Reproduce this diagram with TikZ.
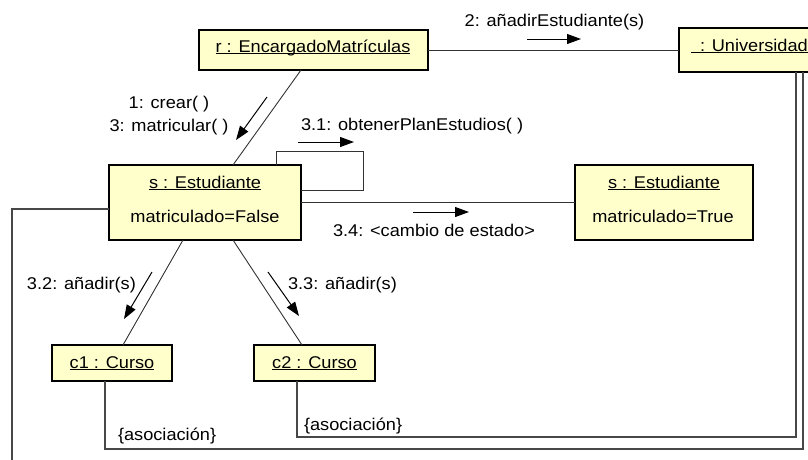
\documentclass[tikz,border=0pt]{standalone}
\usepackage{fontspec}
\setmainfont{Liberation Sans}[FakeStretch=1.07]
\usetikzlibrary{arrows.meta,calc}
\definecolor{boxfill}{RGB}{255,255,204}
\newcommand{\ulname}[1]{\underline{\smash{#1}}}
\begin{document}
\begin{tikzpicture}[x=1pt,y=-1pt,
  every node/.style={font=\fontsize{17}{23}\selectfont, inner sep=0pt, outer sep=0pt},
  objbox/.style={draw=black, line width=1.3pt, fill=boxfill, rectangle},
  conn/.style={draw=black!80, line width=0.9pt},
  assoc/.style={draw=black!72, line width=1.2pt},
  msg/.style={-{Triangle[length=14pt,width=10pt]}, line width=1pt, black},
  lbl/.style={anchor=base west}]
\useasboundingbox (0,0) rectangle (808,459);

% object boxes
\node[objbox, minimum width=229pt, minimum height=40pt] (r) at (313.5,50) {};
\node[objbox, minimum width=151pt, minimum height=44pt] (U) at (754.5,50) {};
\node[objbox, minimum width=192pt, minimum height=75pt] (s) at (205,202.5) {};
\node[objbox, minimum width=178pt, minimum height=75pt] (t) at (664,202.5) {};
\node[objbox, minimum width=120pt, minimum height=36pt] (c1) at (112,363) {};
\node[objbox, minimum width=121pt, minimum height=36pt] (c2) at (314.5,363) {};

% texts inside boxes
\node[anchor=base] (rt) at (313,52) {\ulname{r : EncargadoMatrículas}};
\node[anchor=base west] (Ut) at (691,51) {\ulname{\hspace{9pt}: Universidad}};
\node[anchor=base] (st) at (205,188) {\ulname{s : Estudiante}};
\node[anchor=base] (sa) at (205,222) {matriculado=False};
\node[anchor=base] (tt) at (664,188) {\ulname{s : Estudiante}};
\node[anchor=base] (ta) at (663,222) {matriculado=True};
\node[anchor=base] (c1t) at (112,368) {\ulname{c1 : Curso}};
\node[anchor=base] (c2t) at (314.5,368) {\ulname{c2 : Curso}};

% named coordinates for path corners
\coordinate (loopA) at (276,151);
\coordinate (loopB) at (363,190);
\coordinate (leftC) at (12,465);
\coordinate (as1) at (803,449);
\coordinate (as2) at (796,437);

% links
\draw[conn] (r) -- (U);
\draw[conn] ([xshift=-12.5pt]r.south) -- ([xshift=28pt]s.north);
\draw[conn] (s.north -| loopA) -- (loopA) -| (loopB) -- (s.east |- loopB);
\draw[conn] (s) -- (t);
\draw[conn] ([xshift=-22pt]s.south) -- ([xshift=11pt]c1.north);
\draw[conn] ([xshift=28pt]s.south) -- ([xshift=-12.5pt]c2.north);
\draw[assoc] (s.west |- 0,209) -| (leftC);
\draw[assoc] (c1.south -| 105,0) |- (as1) -- (U.south -| as1);
\draw[assoc] (c2.south -| 297,0) |- (as2) -- (U.south -| as2);

% message arrows
\coordinate (a2s) at (527,39);  \coordinate (a2e) at (581,39);
\coordinate (a1s) at (267,97);  \coordinate (a1e) at (236,140);
\coordinate (a31s) at (298,142); \coordinate (a31e) at (354,142);
\coordinate (a34s) at (413,212); \coordinate (a34e) at (469,212);
\coordinate (a32s) at (152,272); \coordinate (a32e) at (124,319);
\coordinate (a33s) at (268,272); \coordinate (a33e) at (299,316);
\draw[msg] (a2s) -- (a2e);
\draw[msg] (a1s) -- (a1e);
\draw[msg] (a31s) -- (a31e);
\draw[msg] (a34s) -- (a34e);
\draw[msg] (a32s) -- (a32e);
\draw[msg] (a33s) -- (a33e);

% message labels
\node[anchor=base] (l2) at (554.5,26.5) {2: añadirEstudiante(s)};
\node[anchor=base] (l1a) at (169,108) {1: crear( )};
\node[anchor=base] (l1b) at (169,131) {3: matricular( )};
\node[lbl] (l31) at (301,130) {3.1: obtenerPlanEstudios( )};
\node[lbl] (l34) at (333,236) {3.4: <cambio de estado>};
\node[lbl] (l32) at (27,289) {3.2: añadir(s)};
\node[lbl] (l33) at (288,289) {3.3: añadir(s)};
\node[lbl] (la1) at (118,440) {\{asociación\}};
\node[lbl] (la2) at (304,430) {\{asociación\}};
\end{tikzpicture}
\end{document}
